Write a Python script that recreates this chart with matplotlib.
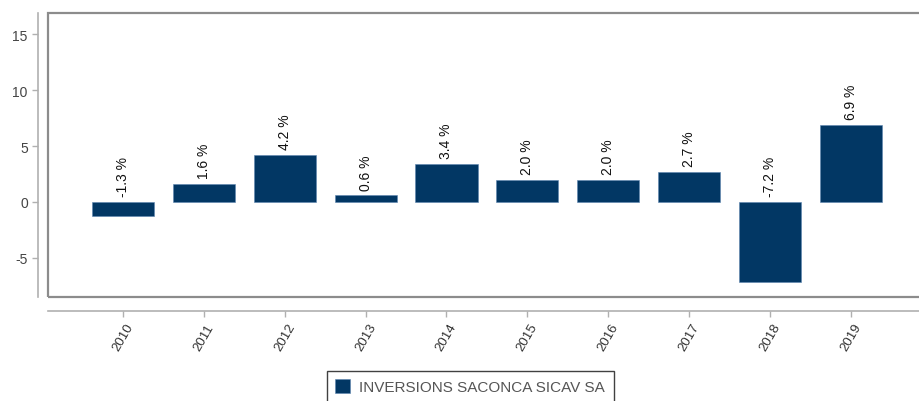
import matplotlib
matplotlib.use("Agg")
import matplotlib.pyplot as plt
from matplotlib.patches import Rectangle

years = ["2010", "2011", "2012", "2013", "2014", "2015", "2016", "2017", "2018", "2019"]
returns = [-1.3, 1.6, 4.2, 0.6, 3.4, 2.0, 2.0, 2.7, -7.2, 6.9]
series_name = "INVERSIONS SACONCA SICAV SA"
y_ticks = [-5, 0, 5, 10, 15]

bar_color = "#023764"
frame_color = "#8c8c8c"
text_color = "#444444"

plt.rcParams["font.family"] = ["Liberation Sans", "DejaVu Sans"]
plt.rcParams["axes.unicode_minus"] = False

fig = plt.figure(figsize=(9.2, 4.02), dpi=100)
ax = fig.add_axes([48 / 920, 1 - 298 / 402, 877 / 920, 284 / 402])

x = list(range(len(years)))
bars = ax.bar(x, returns, width=0.77, color=bar_color, edgecolor="#5d86b0",
              linewidth=0.4, label=series_name, zorder=2)

for xi, v in zip(x, returns):
    base = max(v, 0)
    ax.text(xi, base + 0.5, f"{v:.1f} %", rotation=90, ha="center", va="bottom",
            fontsize=10, color="#111111")

ax.set_xlim(-0.93, 9.92)
ax.set_ylim(-8.5, 16.9)
ax.set_yticks(y_ticks)
ax.set_xticks(x)

for side in ("top", "right"):
    ax.spines[side].set_visible(False)
ax.spines["left"].set_position(("outward", 7))
ax.spines["bottom"].set_position(("outward", 10))
for side in ("left", "bottom"):
    ax.spines[side].set_color("#b0b0b0")
    ax.spines[side].set_linewidth(1.2)

ax.tick_params(axis="y", colors="#b0b0b0", labelcolor=text_color, labelsize=10,
               length=4, width=1)
ax.tick_params(axis="x", colors="#b0b0b0", labelcolor="#333333", labelsize=9.5,
               length=4, width=1)
ax.set_xticklabels(years, rotation=60, ha="center")

ax.add_patch(Rectangle((0, 0), 1, 1, transform=ax.transAxes, fill=False,
                       edgecolor=frame_color, linewidth=1.6, clip_on=False, zorder=3))

leg = fig.legend(handles=[bars], labels=[series_name], loc="upper center",
                 bbox_to_anchor=(470 / 920, 1 - 372 / 402), fancybox=False,
                 frameon=True, fontsize=11, handlelength=1.0, handleheight=1.0,
                 borderpad=0.55, handletextpad=0.6, borderaxespad=0)
leg.get_frame().set_edgecolor("#111111")
leg.get_frame().set_linewidth(1.0)
for t in leg.get_texts():
    t.set_color("#555555")

fig.savefig("out.png", dpi=100)
